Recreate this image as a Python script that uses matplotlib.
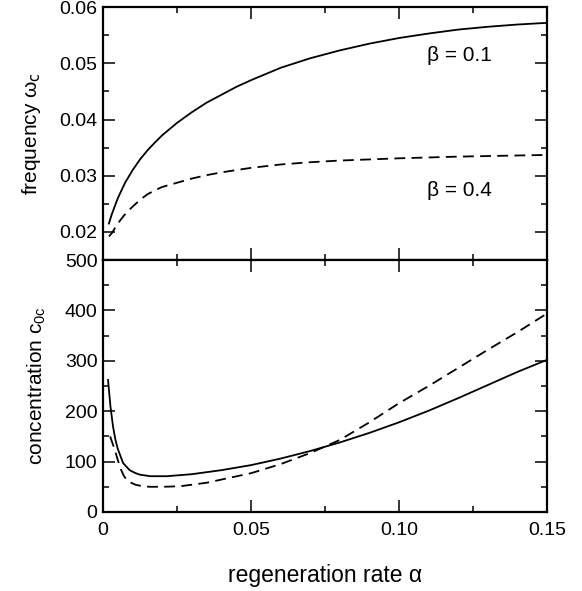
import matplotlib.pyplot as plt
from matplotlib.ticker import MultipleLocator, FuncFormatter

plt.rcParams['font.family'] = ['Liberation Sans', 'DejaVu Sans']
plt.rcParams['mathtext.default'] = 'regular'

# frequency panel (top)
alpha_f01 = [0.002, 0.003, 0.005, 0.0075, 0.010, 0.0125, 0.015, 0.0175, 0.020, 0.025, 0.030,
             0.035, 0.040, 0.045, 0.050, 0.060, 0.070, 0.080, 0.090, 0.100, 0.110, 0.120,
             0.130, 0.140, 0.150]
freq_b01 = [0.0215, 0.0232, 0.0260, 0.0288, 0.0310, 0.0329, 0.0345, 0.0359, 0.0372, 0.0394, 0.0413,
            0.0430, 0.0444, 0.0458, 0.0470, 0.0492, 0.0509, 0.0523, 0.0535, 0.0545, 0.0553, 0.0560,
            0.0565, 0.0569, 0.0572]
alpha_f04 = [0.002, 0.003, 0.0045, 0.006, 0.008, 0.010, 0.0125, 0.015, 0.0175, 0.020, 0.026, 0.030,
             0.035, 0.040, 0.050, 0.060, 0.070, 0.080, 0.100, 0.120, 0.150]
freq_b04 = [0.0192, 0.0198, 0.0211, 0.0222, 0.0235, 0.0245, 0.0257, 0.0267, 0.0274, 0.0280, 0.0289, 0.0295,
            0.0301, 0.0306, 0.0314, 0.0320, 0.0324, 0.0327, 0.0331, 0.0334, 0.0337]

# concentration panel (bottom)
alpha_c01 = [0.0017, 0.0025, 0.0034, 0.0042, 0.005, 0.0068, 0.009, 0.011, 0.0125, 0.016, 0.0216,
             0.030, 0.040, 0.050, 0.060, 0.070, 0.080, 0.090, 0.100, 0.110, 0.120, 0.130,
             0.140, 0.150]
conc_b01 = [262, 210, 169, 143, 125, 97, 83, 77, 74, 71, 71,
            75, 83, 93, 106, 121, 138, 157, 178, 201, 226, 252,
            278, 302]
alpha_c04 = [0.0024, 0.004, 0.005, 0.006, 0.007, 0.0081, 0.0095, 0.011, 0.0135, 0.0159, 0.020,
             0.026, 0.035, 0.050, 0.060, 0.070, 0.080, 0.090, 0.100, 0.110, 0.120, 0.130,
             0.140, 0.150]
conc_b04 = [150, 123, 103, 85, 72, 63, 58, 54, 51, 50, 50,
            51, 58, 77, 95, 117, 143, 178, 216, 250, 286, 322,
            357, 394]

fig = plt.figure(figsize=(5.82, 5.91), dpi=100)
ax1 = fig.add_axes([0.177, 0.560, 0.763, 0.428])
ax2 = fig.add_axes([0.177, 0.1337, 0.763, 0.4263], sharex=ax1)

lw = 1.3
dash = (0, (6, 3.5))
ax1.plot(alpha_f01, freq_b01, color='black', lw=lw)
ax1.plot(alpha_f04, freq_b04, color='black', lw=lw, linestyle=dash)
ax2.plot(alpha_c01, conc_b01, color='black', lw=lw)
ax2.plot(alpha_c04, conc_b04, color='black', lw=lw, linestyle=dash)

ax1.text(0.1095, 0.0513, 'β = 0.1', fontsize=15, va='center')
ax1.text(0.1095, 0.0273, 'β = 0.4', fontsize=15, va='center')

ax1.set_xlim(0, 0.15)
ax1.set_ylim(0.015, 0.06)
ax2.set_ylim(0, 500)

ax1.xaxis.set_major_locator(MultipleLocator(0.05))
ax1.xaxis.set_minor_locator(MultipleLocator(0.025))
ax1.yaxis.set_major_locator(MultipleLocator(0.01))
ax1.yaxis.set_minor_locator(MultipleLocator(0.005))
ax2.yaxis.set_major_locator(MultipleLocator(100))
ax2.yaxis.set_minor_locator(MultipleLocator(50))

ax1.yaxis.set_major_formatter(FuncFormatter(lambda v, p: '%.2f' % v))
ax2.xaxis.set_major_formatter(FuncFormatter(lambda v, p: '0' if abs(v) < 1e-9 else '%.2f' % v))

for ax in (ax1, ax2):
    for s in ax.spines.values():
        s.set_linewidth(1.6)
    ax.tick_params(which='both', direction='in', top=True, right=True, width=1.1,
                   labelsize=14)
    ax.tick_params(which='major', length=8.5, pad=4)
    ax.tick_params(which='minor', length=4.5)
ax2.tick_params(axis='x', which='major', pad=7)
plt.setp(ax1.get_xticklabels(), visible=False)

ax1.set_ylabel('frequency ω$_{\\mathsf{c}}$', fontsize=15, labelpad=12)
ax2.set_ylabel('concentration c$_{0c}$', fontsize=15, labelpad=12)
ax2.set_xlabel('regeneration rate α', fontsize=16.5, labelpad=18)

fig.savefig('out.png', dpi=100)
